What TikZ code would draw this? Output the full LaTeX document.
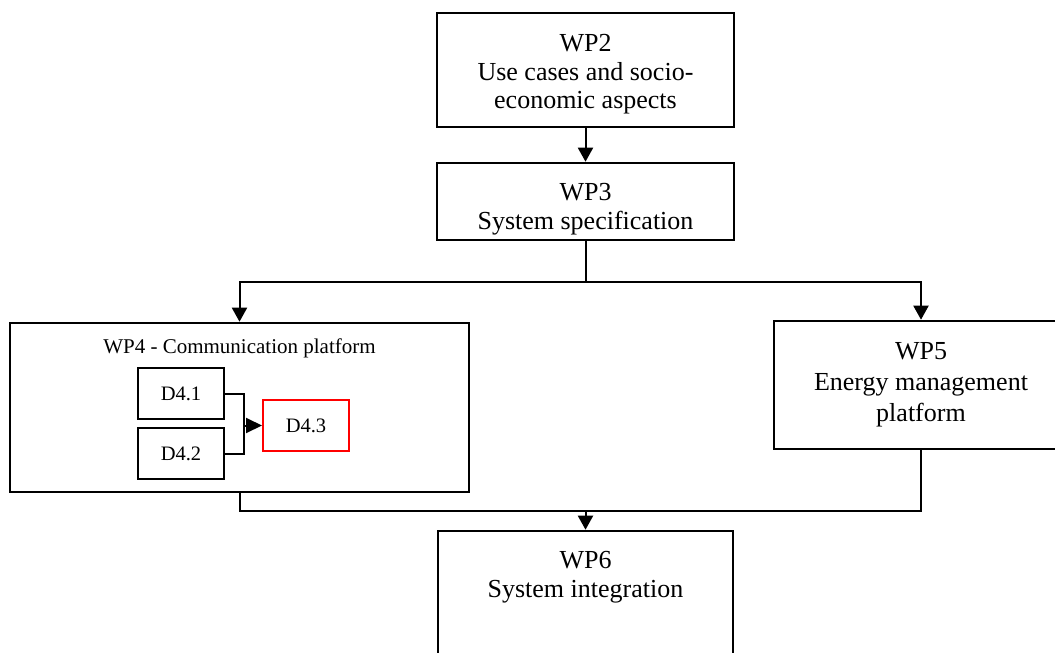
\documentclass[tikz,border=0pt]{standalone}
\usepackage{fontspec}
\setmainfont{Liberation Serif}
\usetikzlibrary{arrows.meta}
\begin{document}
\begin{tikzpicture}[x=1pt,y=-1pt,
  wpbox/.style={draw=black,line width=2.6pt,fill=white,inner sep=0pt,
    minimum width=#1},
  wptext/.style={inner sep=0pt,align=center,
    font=\fontsize{26}{28.5}\selectfont},
  dbox/.style={draw=black,line width=2pt,fill=white,inner sep=0pt,
    minimum width=86pt,minimum height=51pt,
    font=\fontsize{20.5}{24}\selectfont},
  wire/.style={line width=2pt,line join=miter},
  arr/.style={wire,-{Triangle[length=14pt,width=15pt]}},
  smallarr/.style={wire,-{Triangle[length=16pt,width=15pt]}}
]
\useasboundingbox (0,0) rectangle (1055,653);
\clip (0,0) rectangle (1055,653);
\fill[white] (0,0) rectangle (1055,653);

% work packages
\node[wpbox=297pt,minimum height=114pt] (WP2) at (585.5,70) {};
\node[wptext] (WP2t) at (585.5,74.5)
  {WP2\\Use cases and socio-\\economic aspects};
\node[wpbox=297pt,minimum height=77pt] (WP3) at (585.5,201.5) {};
\node[wptext] (WP3t) at (585.5,209) {WP3\\System specification};
\node[wpbox=459pt,minimum height=169pt] (WP4) at (239.5,407.5) {};
\node[font=\fontsize{21}{24}\selectfont,inner sep=0pt] (WP4t) at (239.5,348)
  {WP4 - Communication platform};
\node[wpbox=294pt,minimum height=128pt] (WP5) at (921,385) {};
\node[wptext,font=\fontsize{26}{31}\selectfont] (WP5t) at (921,385)
  {WP5\\Energy management\\platform};
\node[wpbox=295pt,minimum height=139pt] (WP6) at (585.5,600.5) {};
\node[wptext] (WP6t) at (585.5,577) {WP6\\System integration};

% deliverables of WP4
\node[dbox] (D41) at (181,393.5) {D4.1};
\node[dbox] (D42) at (181,453.5) {D4.2};
\node[dbox,draw=red] (D43) at (306,425.5) {D4.3};

% junction points
\coordinate (split) at (585.5,282);
\coordinate (merge) at (585.5,511);
\coordinate (dj) at (244,425.5);

% flow between work packages
\draw[arr] (WP2.south) -- (WP3.north);
\draw[wire] (WP3.south) -- (split);
\draw[arr] (split) -| (WP4.north);
\draw[arr] (split) -| (WP5.north);
\draw[wire] (WP4.south) |- (merge);
\draw[wire] (WP5.south) |- (merge);
\draw[arr] (merge) -- (WP6.north);

% deliverable flow
\draw[wire] (D41.east) -| (dj);
\draw[wire] (D42.east) -| (dj);
\draw[smallarr] (dj) -- (D43.west);
\end{tikzpicture}
\end{document}
